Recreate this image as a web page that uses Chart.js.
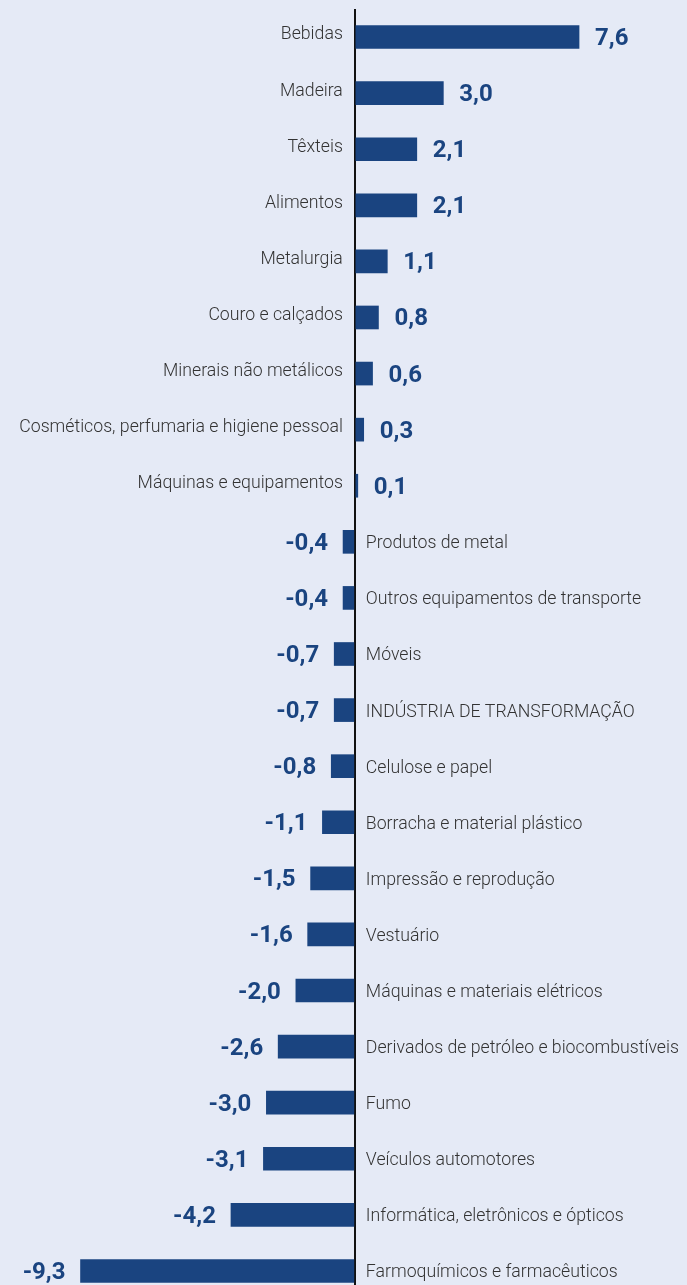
<!DOCTYPE html>
<html lang="pt-BR">
<head>
  <meta charset="UTF-8" />
  <title>Variação por setor</title>
  <script src="https://cdn.jsdelivr.net/npm/chart.js"></script>
  <style>
    html, body { margin: 0; padding: 0; background: #e5eaf6; overflow: hidden; }
    .wrap { position: relative; width: 687px; height: 1299px; }
  </style>
</head>
<body>
  <div class="wrap"><canvas id="setores"></canvas></div>

  <script>
    const categories = [
      'Bebidas', 'Madeira', 'Têxteis', 'Alimentos', 'Metalurgia', 'Couro e calçados',
      'Minerais não metálicos', 'Cosméticos, perfumaria e higiene pessoal',
      'Máquinas e equipamentos', 'Produtos de metal', 'Outros equipamentos de transporte',
      'Móveis', 'INDÚSTRIA DE TRANSFORMAÇÃO', 'Celulose e papel',
      'Borracha e material plástico', 'Impressão e reprodução', 'Vestuário',
      'Máquinas e materiais elétricos', 'Derivados de petróleo e biocombustíveis',
      'Fumo', 'Veículos automotores', 'Informática, eletrônicos e ópticos',
      'Farmoquímicos e farmacêuticos'
    ];
    const values = [
      7.6, 3.0, 2.1, 2.1, 1.1, 0.8, 0.6, 0.3, 0.1, -0.4, -0.4, -0.7, -0.7, -0.8,
      -1.1, -1.5, -1.6, -2.0, -2.6, -3.0, -3.1, -4.2, -9.3
    ];

    const barColor = '#1a4480';
    const fmt = v => v.toFixed(1).replace('.', ',');

    // category name on one side of the zero line, value on the other
    const labelPlugin = {
      id: 'barLabels',
      afterDatasetsDraw(chart) {
        const ctx = chart.ctx;
        const meta = chart.getDatasetMeta(0);
        const zero = chart.scales.x.getPixelForValue(0);
        ctx.save();
        ctx.textBaseline = 'middle';
        meta.data.forEach((bar, i) => {
          const v = values[i];
          const y = bar.y;
          ctx.font = '300 17.7px Roboto';
          ctx.fillStyle = '#333333';
          if (v >= 0) {
            ctx.textAlign = 'right';
            ctx.fillText(categories[i], zero - 12, y - 2);
          } else {
            ctx.textAlign = 'left';
            ctx.fillText(categories[i], zero + 11, y + 2);
          }
          ctx.font = 'bold 24px Roboto';
          ctx.fillStyle = barColor;
          if (v >= 0) {
            ctx.textAlign = 'left';
            ctx.fillText(fmt(v), bar.x + 16, y + 2);
          } else {
            ctx.textAlign = 'right';
            ctx.fillText(fmt(v), bar.x - 15, y + 2);
          }
        });
        ctx.restore();
      }
    };

    new Chart(document.getElementById('setores'), {
      type: 'bar',
      data: {
        labels: categories,
        datasets: [{
          data: values,
          backgroundColor: barColor,
          borderWidth: 0,
          barThickness: 23
        }]
      },
      options: {
        indexAxis: 'y',
        responsive: true,
        maintainAspectRatio: false,
        animation: false,
        layout: { padding: { top: 9, bottom: 0, left: 0, right: 0 } },
        plugins: {
          legend: { display: false },
          tooltip: { enabled: false }
        },
        scales: {
          x: {
            min: -12.03,
            max: 11.26,
            ticks: { display: false, stepSize: 1 },
            border: { display: false },
            grid: {
              drawTicks: false,
              lineWidth: 2,
              color: c => (c.tick && c.tick.value === 0 ? '#111111' : 'rgba(0,0,0,0)')
            }
          },
          y: {
            ticks: { display: false },
            border: { display: false },
            grid: { display: false, drawTicks: false }
          }
        }
      },
      plugins: [labelPlugin]
    });
  </script>
</body>
</html>
